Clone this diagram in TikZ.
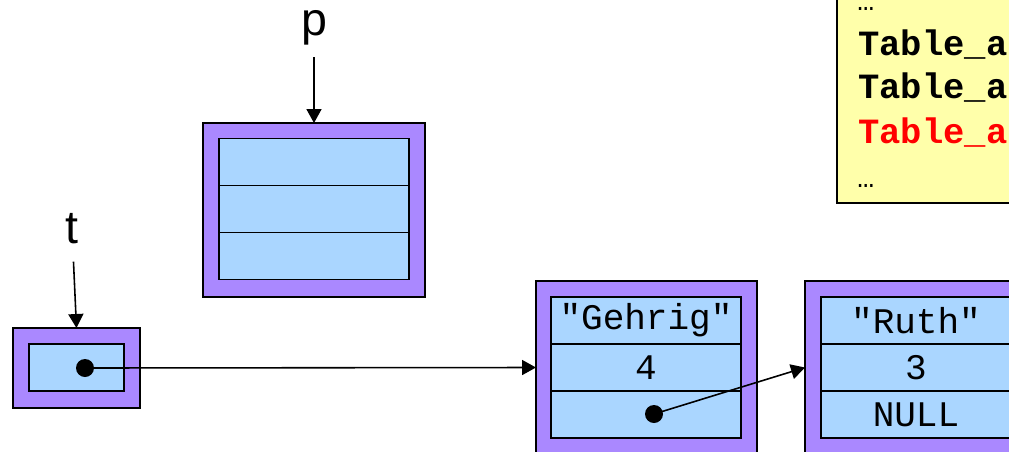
\documentclass[tikz,border=0pt]{standalone}
\usepackage{fontspec}
\setmainfont{Liberation Sans}
\newfontfamily\codefont{Liberation Mono}
\usepackage{xcolor}
\usetikzlibrary{positioning,arrows.meta}
\definecolor{framepurple}{RGB}{170,136,255}
\definecolor{cellblue}{RGB}{170,214,255}
\definecolor{notebg}{RGB}{255,255,170}

\begin{document}
\begin{tikzpicture}[x=0.02cm,y=-0.02cm, line join=miter]
  \useasboundingbox (0,0) rectangle (1009,451);
  \clip (0,0) rectangle (1009,451);

  % ===== styles =====
  \tikzset{
    frame/.style={draw=black, fill=framepurple, line width=1.2pt, inner sep=0pt, outer sep=0pt},
    cell/.style={draw=black, fill=cellblue, line width=1.1pt, inner sep=0pt, outer sep=0pt,
      minimum width=3.8cm, minimum height=0.94cm, font=\codefont\fontsize{20.5}{24}\selectfont},
    ptr/.style={-{Triangle[length=0.28cm,width=0.3cm]}, line width=0.9pt},
    dotnode/.style={circle, fill=black, minimum size=0.36cm, inner sep=0pt},
    varname/.style={inner sep=2pt, font=\fontsize{26.5}{30}\selectfont},
    codeline/.style={inner sep=0pt, anchor=base west, font=\codefont\bfseries\fontsize{20.2}{24}\selectfont}
  }

  % ===== note box (top right) =====
  \node[draw=black, fill=notebg, line width=1.2pt, anchor=north west,
        minimum width=5cm, minimum height=4.24cm] (note) at (836,-10) {};
  \node[codeline, font=\codefont\fontsize{16}{20}\selectfont] (dotsa) at (857,10) {…};
  \node[codeline] (taba) at (858,55) {Table\_a};
  \node[codeline] (tabb) at (858,98) {Table\_a};
  \node[codeline, text=red] (tabc) at (858,143) {Table\_a};
  \node[codeline, font=\codefont\fontsize{16}{20}\selectfont] (dotsb) at (857,187) {…};

  % ===== p =====
  \node[varname] (plabel) at (314,27.5) {p};
  \node[frame, minimum width=4.44cm, minimum height=3.48cm] (pbox) at (314,210) {};
  \node[cell] (pca) at (314,162) {};
  \node[cell, below=0pt of pca] (pcb) {};
  \node[cell, below=0pt of pcb] (pcc) {};

  % ===== t =====
  \node[varname] (tlabel) at (72,229) {t};
  \node[frame, minimum width=2.54cm, minimum height=1.6cm] (tbox) at (76.5,368) {};
  \node[cell, minimum width=1.9cm] (tcell) at (76.5,367.5) {};
  \node[dotnode] (tdot) at (85,368) {};

  % ===== "Gehrig" =====
  \node[frame, minimum width=4.42cm, minimum height=3.46cm] (gbox) at (646.5,367.5) {};
  \node[cell] (gca) at (646,320.5) {"Gehrig"};
  \node[cell, below=0pt of gca] (gcb) {4};
  \node[cell, below=0pt of gcb] (gcc) {};
  \node[dotnode] (gdot) at (654,414) {};

  % ===== "Ruth" =====
  \node[frame, minimum width=4.42cm, minimum height=3.46cm] (rbox) at (915.5,367.5) {};
  \node[cell] (rca) at (916,320.5) {"Ruth"};
  \node[cell, below=0pt of rca] (rcb) {3};
  \node[cell, below=0pt of rcb] (rcc) {NULL};

  % ===== pointers =====
  \draw[ptr, shorten <=0.17cm] (plabel) -- (pbox.north);
  \draw[ptr, shorten <=0.27cm] (tlabel) -- (tbox.north);
  \draw[ptr] (tdot.center) -- (gbox.west);
  \draw[ptr] (gdot.center) -- (rbox.west);
\end{tikzpicture}
\end{document}
